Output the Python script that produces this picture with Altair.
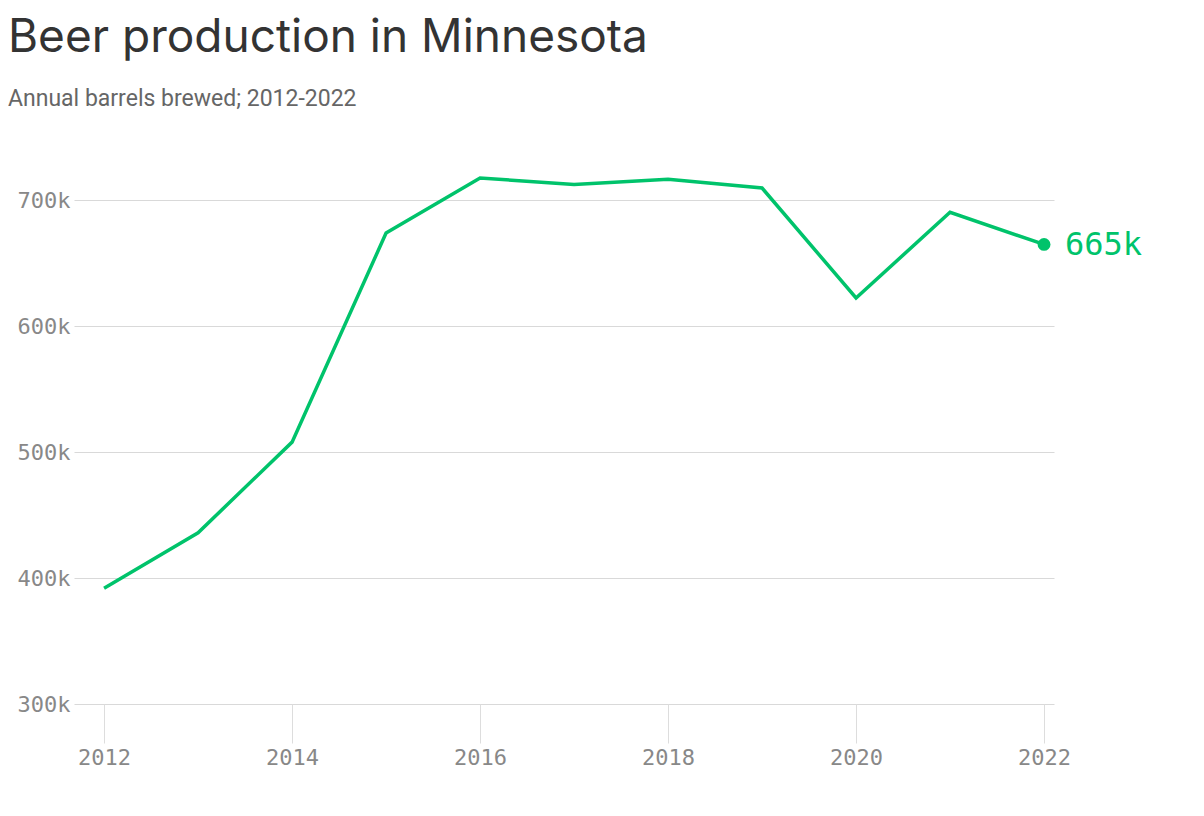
import altair as alt
import pandas as pd

years = [2012, 2013, 2014, 2015, 2016, 2017, 2018, 2019, 2020, 2021, 2022]
barrels = [392000, 436000, 508000, 674000, 717700, 712700, 716700, 709800, 622500, 690500, 665000]
y_ticks = [300000, 400000, 500000, 600000, 700000]
x_ticks = [2012, 2014, 2016, 2018, 2020, 2022]
last_label = "665k"

GREEN = "#00c36b"

df = pd.DataFrame({"year": years, "barrels": barrels})
df["label"] = [last_label if y == years[-1] else "" for y in years]

x = alt.X(
    "year:Q",
    scale=alt.Scale(domain=[2011.68, 2022.106], nice=False, zero=False),
    axis=alt.Axis(
        values=x_ticks,
        format="d",
        grid=False,
        domain=False,
        ticks=True,
        tickSize=39,
        tickColor="#dddddd",
        tickWidth=1,
        labelPadding=4,
        labelFont="DejaVu Sans Mono",
        labelFontSize=22,
        labelColor="#888888",
        title=None,
    ),
)
y = alt.Y(
    "barrels:Q",
    scale=alt.Scale(domain=[300000, 740000], nice=False, zero=False),
    axis=alt.Axis(
        values=y_ticks,
        labelExpr="datum.value / 1000 + 'k'",
        grid=True,
        gridColor="#d9d9d9",
        domain=False,
        ticks=False,
        labelPadding=4,
        labelFont="DejaVu Sans Mono",
        labelFontSize=22,
        labelColor="#888888",
        title=None,
    ),
)

base = alt.Chart(df)
line = base.mark_line(color=GREEN, strokeWidth=3.5).encode(x=x, y=y)
last = base.transform_filter(alt.datum.year == years[-1])
dot = last.mark_point(filled=True, color=GREEN, size=165, opacity=1).encode(x=x, y=y)
txt = last.mark_text(
    align="left", baseline="middle", dx=21, dy=1,
    font="DejaVu Sans Mono", fontSize=32, color=GREEN,
).encode(x=x, y=y, text="label:N")

chart = alt.layer(line, dot, txt).properties(
    width=980,
    height=554,
    padding={"left": 66, "top": 142, "right": 130, "bottom": 70},
    autosize=alt.AutoSizeParams(type="none"),
    title=alt.TitleParams(
        text="Beer production in Minnesota",
        subtitle="Annual barrels brewed; 2012-2022",
        anchor="start",
        frame="group",
        dx=-66,
        offset=38,
        font="Inter",
        fontSize=46,
        fontWeight="normal",
        color="#333333",
        subtitleFont="Roboto",
        subtitleFontSize=23,
        subtitleColor="#666666",
        subtitlePadding=26,
    ),
).configure_view(stroke=None)

chart.save("out.html", embed_options={"renderer": "svg", "actions": False})
